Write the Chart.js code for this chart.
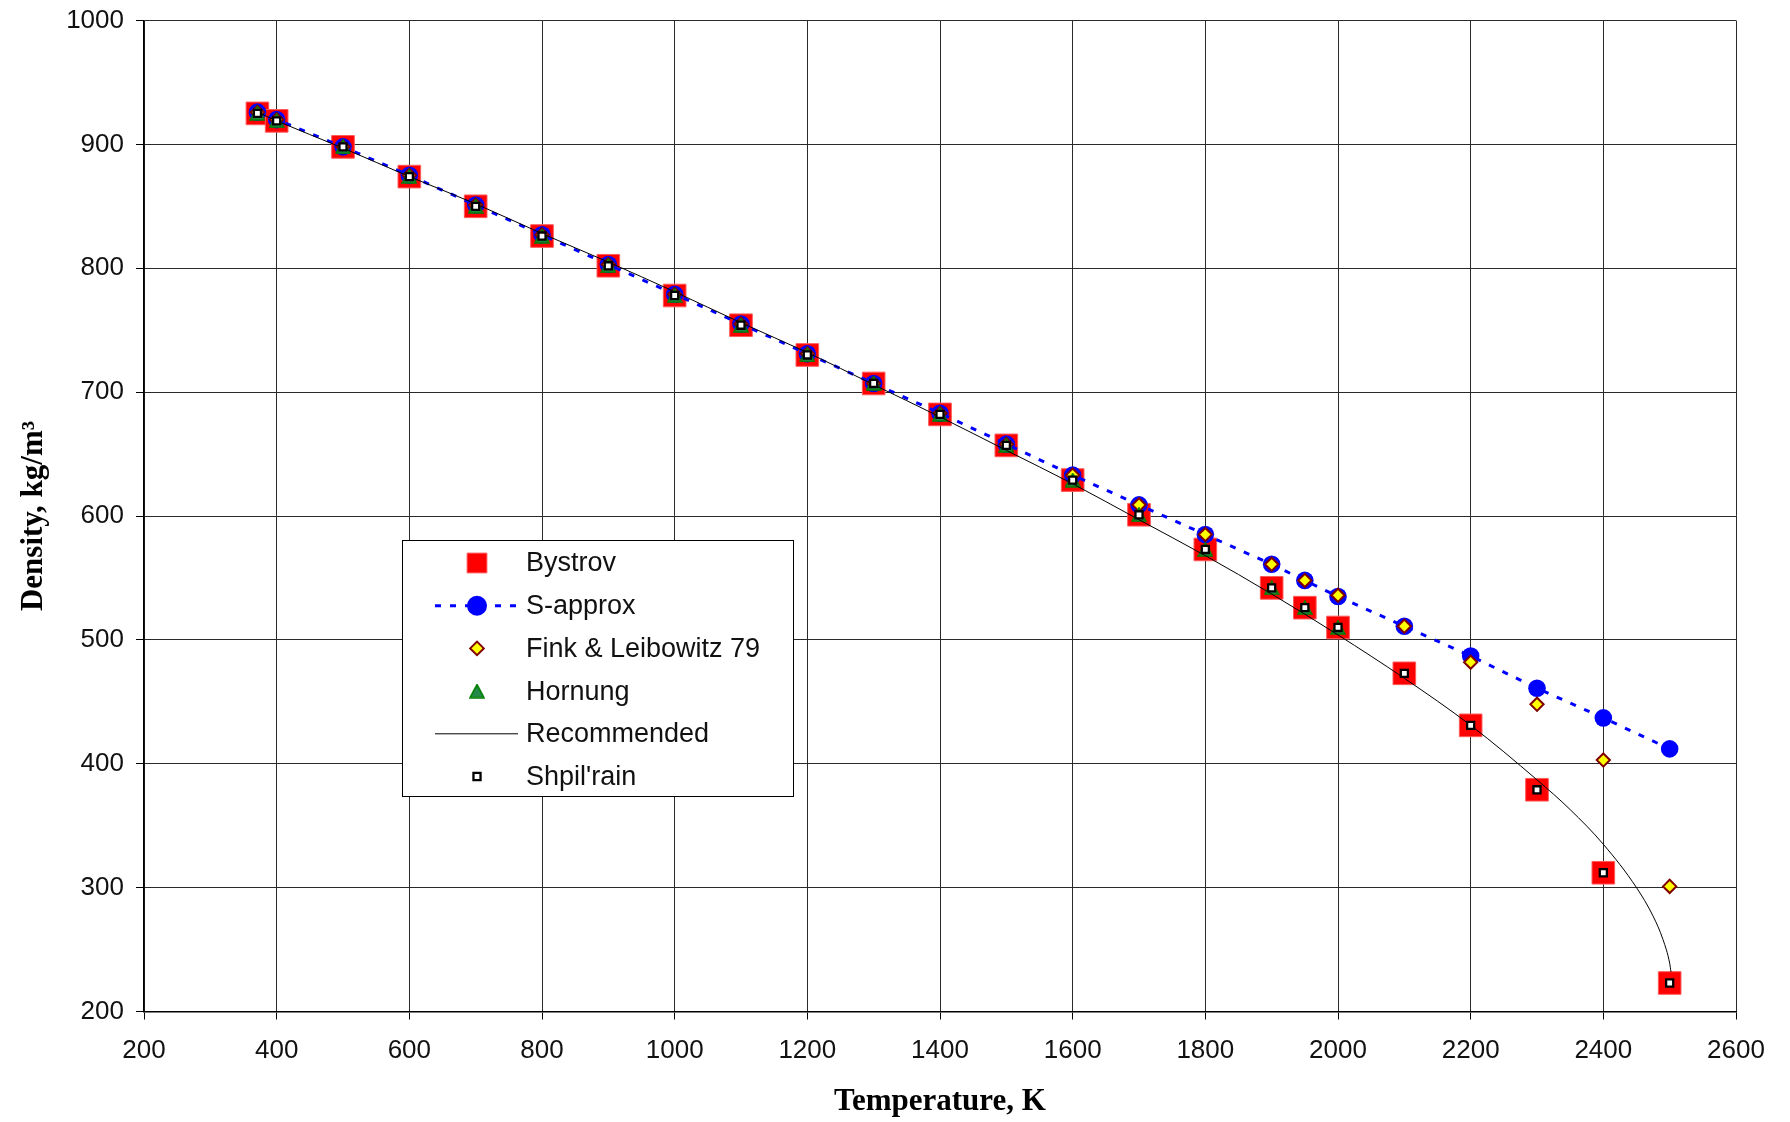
<!DOCTYPE html>
<html>
<head>
<meta charset="utf-8">
<title>Density of liquid sodium</title>
<script src="https://cdn.jsdelivr.net/npm/chart.js@4.4.1/dist/chart.umd.min.js"></script>
<style>
  html, body { margin: 0; padding: 0; background: #ffffff; }
  canvas { display: block; }
</style>
</head>
<body>
<canvas id="chart" width="1790" height="1122" style="width:1790px;height:1122px"></canvas>
<script>
// Temperatures (K) of the tabulated points
const tempPoints = [371, 400, 500, 600, 700, 800, 900, 1000, 1100, 1200, 1300, 1400, 1500,
                    1600, 1700, 1800, 1900, 1950, 2000, 2100, 2200, 2300, 2400, 2500];
// Hornung data stop at 2000 K
const tempHornung = [371, 400, 500, 600, 700, 800, 900, 1000, 1100, 1200, 1300, 1400, 1500,
                     1600, 1700, 1800, 1900, 1950, 2000];
// Temperatures of the recommended curve
const tempRecommended = [371, 400, 500, 600, 700, 800, 900, 1000, 1100, 1200, 1300, 1400, 1500,
                         1600, 1700, 1800, 1900, 2000, 2100, 2200, 2300, 2350, 2400, 2450,
                         2475, 2490, 2500, 2502];

// Densities, kg/m3
const bystrov = [925, 919, 898, 874, 850, 826, 802, 778, 754, 730, 707, 682, 657,
                 629, 601, 573, 542, 526, 510, 473, 431, 379, 312, 223];
const sApprox = [926, 920, 898, 875, 851, 827, 803, 779, 755, 731, 707, 683, 658,
                 633, 609, 585, 561, 548, 535, 511, 487, 461, 437, 412];
const finkLeibowitz = [926, 920, 898, 875, 851, 827, 803, 779, 755, 731, 707, 683, 658,
                       633, 609, 585, 561, 548, 536, 511, 482, 448, 403, 301];
const hornung = [925, 919, 898, 874, 850, 826, 802, 778, 754, 730, 707, 682, 657,
                 629, 601, 573, 542, 526, 510];
const recommended = [926, 919, 897, 874, 852, 828, 805, 781, 756, 732, 706, 680, 653,
                     626, 597, 568, 537, 504, 469, 431, 387, 363, 335, 300,
                     277, 258, 239, 232];
const shpilrain = [925, 919, 898, 874, 850, 826, 802, 778, 754, 730, 707, 682, 657,
                   629, 601, 573, 542, 526, 510, 473, 431, 379, 312, 223];

// Axis ticks
const xTicks = [200, 400, 600, 800, 1000, 1200, 1400, 1600, 1800, 2000, 2200, 2400, 2600];
const yTicks = [200, 300, 400, 500, 600, 700, 800, 900, 1000];

const pairs = (xs, ys) => xs.map((x, i) => ({ x: x, y: ys[i] }));

// Triangle marker centred on its bounding box
function makeTriangle(w, h) {
  const c = document.createElement('canvas');
  c.width = w; c.height = h;
  const g = c.getContext('2d');
  g.beginPath();
  g.moveTo(w / 2, 1);
  g.lineTo(w - 1, h - 1);
  g.lineTo(1, h - 1);
  g.closePath();
  g.fillStyle = '#23894a';
  g.fill();
  g.lineWidth = 1.6;
  g.strokeStyle = '#008000';
  g.stroke();
  return c;
}
const triangleMarker = makeTriangle(16, 15);

const tickFont = { family: '"Liberation Sans", Arial, sans-serif', size: 26 };
const titleFont = { family: '"Liberation Serif", "Times New Roman", serif', size: 31, weight: 'bold' };

// Framed legend drawn inside the plot area
const boxedLegend = {
  id: 'boxedLegend',
  afterDatasetsDraw(chart) {
    const ctx = chart.ctx;
    const left = 402.5, top = 540.5, width = 391, height = 256;
    const markX = 477, lineX0 = 435, lineX1 = 518, textX = 526;
    ctx.save();
    ctx.fillStyle = '#ffffff';
    ctx.fillRect(left, top, width, height);
    ctx.strokeStyle = '#000000';
    ctx.lineWidth = 1;
    ctx.strokeRect(left, top, width, height);
    chart.data.datasets.forEach((ds, i) => {
      const y = top + 22.5 + i * 42.7;
      if (ds.showLine) {
        ctx.save();
        ctx.beginPath();
        ctx.strokeStyle = ds.borderColor;
        ctx.lineWidth = ds.borderWidth;
        ctx.setLineDash(ds.borderDash || []);
        ctx.moveTo(lineX0, y);
        ctx.lineTo(lineX1, y);
        ctx.stroke();
        ctx.restore();
      }
      if (ds.pointRadius > 0) {
        ctx.save();
        ctx.fillStyle = ds.pointBackgroundColor;
        ctx.strokeStyle = ds.pointBorderColor;
        ctx.lineWidth = ds.pointBorderWidth;
        Chart.helpers.drawPoint(ctx, {
          pointStyle: ds.pointStyle,
          radius: ds.legendRadius,
          borderWidth: ds.pointBorderWidth,
          rotation: 0
        }, markX, y);
        ctx.restore();
      }
      ctx.fillStyle = '#111111';
      ctx.font = '27px "Liberation Sans", Arial, sans-serif';
      ctx.textAlign = 'left';
      ctx.textBaseline = 'middle';
      ctx.fillText(ds.label, textX, y + 1);
    });
    ctx.restore();
  }
};

new Chart(document.getElementById('chart'), {
  type: 'line',
  data: {
    datasets: [
      {
        label: 'Bystrov',
        data: pairs(tempPoints, bystrov),
        showLine: false,
        pointStyle: 'rect',
        pointRadius: 16,
        legendRadius: 14,
        pointBackgroundColor: '#ff0000',
        pointBorderColor: '#ff5a5a',
        pointBorderWidth: 1,
        order: 6
      },
      {
        label: 'S-approx',
        data: pairs(tempPoints, sApprox),
        showLine: true,
        borderColor: '#0000ff',
        borderWidth: 3,
        borderDash: [6, 9],
        tension: 0,
        pointStyle: 'circle',
        pointRadius: 8.8,
        legendRadius: 10,
        pointBackgroundColor: '#0000ff',
        pointBorderColor: '#0000ff',
        pointBorderWidth: 0,
        order: 5
      },
      {
        label: 'Fink & Leibowitz 79',
        data: pairs(tempPoints, finkLeibowitz),
        showLine: false,
        pointStyle: 'rectRot',
        pointRadius: 6.6,
        legendRadius: 6.8,
        pointBackgroundColor: '#ffff00',
        pointBorderColor: '#800000',
        pointBorderWidth: 2,
        order: 4
      },
      {
        label: 'Hornung',
        data: pairs(tempHornung, hornung),
        showLine: false,
        pointStyle: triangleMarker,
        pointRadius: 8,
        legendRadius: 8,
        pointBackgroundColor: '#23894a',
        pointBorderColor: '#008000',
        pointBorderWidth: 1.5,
        order: 3
      },
      {
        label: 'Recommended',
        data: pairs(tempRecommended, recommended),
        showLine: true,
        borderColor: '#000000',
        borderWidth: 1,
        cubicInterpolationMode: 'monotone',
        pointRadius: 0,
        order: 2
      },
      {
        label: "Shpil'rain",
        data: pairs(tempPoints, shpilrain),
        showLine: false,
        pointStyle: 'rect',
        pointRadius: 5,
        legendRadius: 5,
        pointBackgroundColor: '#ffffff',
        pointBorderColor: '#000000',
        pointBorderWidth: 2.3,
        order: 1
      }
    ]
  },
  options: {
    responsive: false,
    animation: false,
    events: [],
    layout: { padding: { left: 0, top: 20.5, right: 54, bottom: 0 } },
    plugins: {
      legend: { display: false },
      tooltip: { enabled: false }
    },
    scales: {
      x: {
        type: 'linear',
        min: 200,
        max: 2600,
        afterBuildTicks: (s) => { s.ticks = xTicks.map(v => ({ value: v })); },
        afterFit: (s) => { s.height = 110.5; },
        grid: { color: '#2a2a2a', lineWidth: 1, tickLength: 8, tickColor: '#000' },
        border: { display: true, color: '#000000', width: 1.5 },
        ticks: {
          font: tickFont, color: '#111111', padding: 16, maxRotation: 0, autoSkip: false,
          callback: (v) => String(v)
        },
        title: {
          display: true,
          text: 'Temperature, K',
          font: titleFont,
          color: '#000000',
          padding: { top: 0, bottom: 1.5 }
        }
      },
      y: {
        type: 'linear',
        min: 200,
        max: 1000,
        afterBuildTicks: (s) => { s.ticks = yTicks.map(v => ({ value: v })); },
        afterFit: (s) => { s.width = 144; s.paddingTop = 0; s.paddingBottom = 0; },
        grid: { color: '#2a2a2a', lineWidth: 1, tickLength: 8, tickColor: '#000' },
        border: { display: true, color: '#000000', width: 1.5 },
        ticks: {
          font: tickFont, color: '#111111', padding: 12, autoSkip: false,
          callback: (v) => String(v)
        },
        title: {
          display: true,
          text: 'Density, kg/m³',
          font: titleFont,
          color: '#000000',
          padding: { top: 15, bottom: 0 }
        }
      }
    }
  },
  plugins: [boxedLegend]
});
</script>
</body>
</html>
